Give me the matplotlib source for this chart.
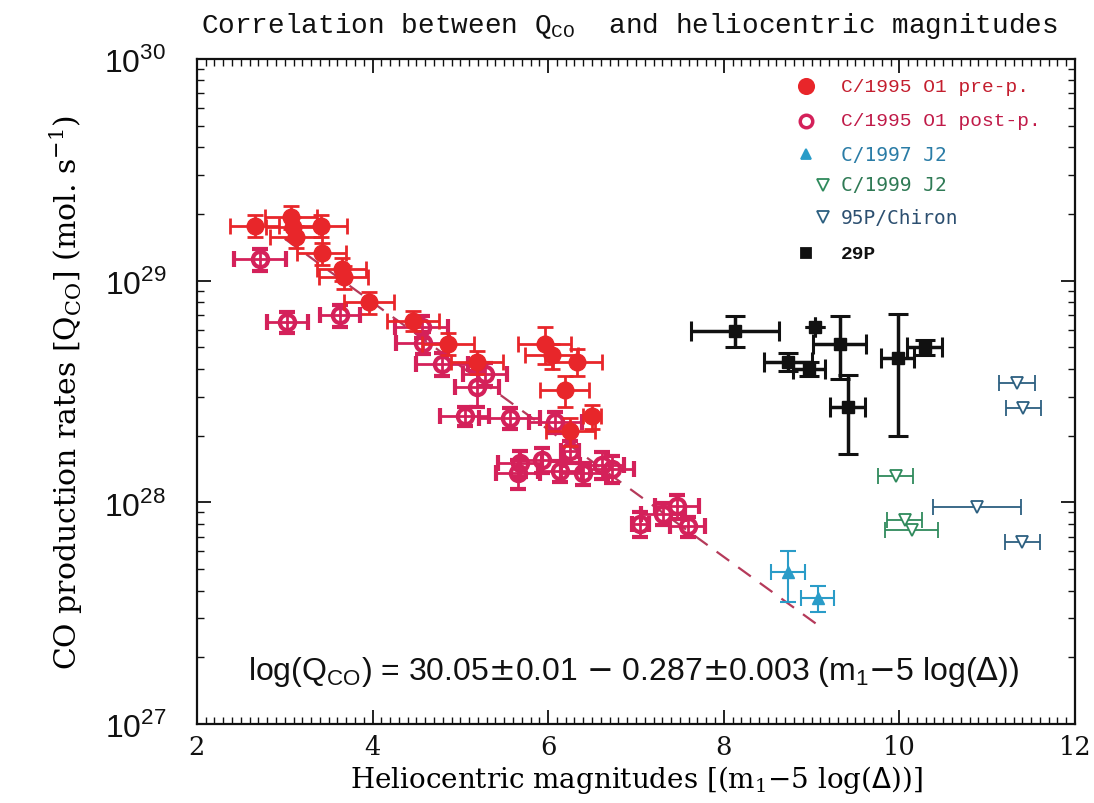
import matplotlib
matplotlib.use("Agg")
import matplotlib.pyplot as plt
from matplotlib.ticker import MultipleLocator, LogLocator, NullFormatter
import numpy as np

# ---------------- data (Q in units of 1e28 mol/s) ----------------
pre_x    = [2.66, 3.07, 3.09, 3.13, 3.41, 3.42, 3.65, 3.67, 3.96, 4.46, 4.86, 5.19, 5.96, 6.04, 6.33, 6.19, 6.25, 6.50]
pre_q    = [17.7, 19.4, 17.4, 15.8, 17.7, 13.3, 11.3, 10.4, 8.0, 6.6, 5.2, 4.3, 5.2, 4.6, 4.3, 3.2, 2.1, 2.45]
pre_xerr = [0.28, 0.30, 0.30, 0.30, 0.30, 0.28, 0.28, 0.28, 0.28, 0.30, 0.30, 0.30, 0.30, 0.30, 0.28, 0.28, 0.28, 0.10]
pre_qerr = [2.0, 2.3, 2.0, 1.8, 2.0, 1.5, 1.3, 1.2, 0.9, 0.7, 0.6, 0.5, 1.0, 0.6, 0.6, 0.5, 0.3, 0.3]

post_x    = [2.72, 3.03, 3.63, 4.56, 4.57, 4.79, 5.28, 5.19, 5.05, 5.56, 6.08, 6.25, 5.68, 5.93, 5.66, 6.13, 6.40, 6.61, 6.73, 7.05, 7.31, 7.47, 7.59]
post_q    = [12.5, 6.5, 7.0, 6.2, 5.25, 4.2, 3.8, 3.3, 2.45, 2.4, 2.3, 1.7, 1.5, 1.55, 1.35, 1.38, 1.35, 1.48, 1.42, 0.80, 0.89, 0.96, 0.78]
post_xerr = [0.30, 0.23, 0.23, 0.30, 0.30, 0.30, 0.25, 0.25, 0.28, 0.35, 0.30, 0.10, 0.25, 0.25, 0.25, 0.25, 0.25, 0.25, 0.25, 0.10, 0.25, 0.25, 0.20]
post_qerr = [1.4, 0.7, 0.8, 0.7, 0.6, 0.5, 0.45, 0.6, 0.25, 0.25, 0.25, 0.2, 0.2, 0.2, 0.2, 0.15, 0.15, 0.2, 0.2, 0.1, 0.1, 0.12, 0.08]

j97_x     = [8.73, 9.07]
j97_q     = [0.485, 0.37]
j97_xerr  = [0.19, 0.19]
j97_qlo   = [0.13, 0.05]
j97_qhi   = [0.115, 0.05]

j99_x     = [9.96, 10.06, 10.14]
j99_q     = [1.31, 0.83, 0.75]
j99_xerr  = [0.20, 0.20, 0.30]

chiron_x    = [11.34, 11.41, 10.88, 11.40]
chiron_q    = [3.45, 2.67, 0.955, 0.66]
chiron_xerr = [0.20, 0.20, 0.50, 0.20]

p29_x     = [8.13, 9.04, 9.32, 8.73, 8.97, 9.41, 9.98, 10.29]
p29_q     = [5.9, 6.2, 5.2, 4.3, 4.0, 2.7, 4.5, 5.0]
p29_xerr  = [0.50, 0.0, 0.30, 0.27, 0.18, 0.20, 0.19, 0.20]
p29_qlo   = [0.9, 0.0, 1.6, 0.4, 0.3, 1.05, 2.5, 0.4]
p29_qhi   = [1.0, 0.0, 1.7, 0.4, 0.3, 1.05, 2.55, 0.4]

fit_intercept = 30.05
fit_slope = -0.287
fit_xrange = [3.0, 9.1]

SCALE = 1e28

c_pre = '#e8262a'
c_post = '#d4215a'
c_j97 = '#2a9cc8'
c_j99 = '#2f8a5c'
c_chi = '#2c5f80'
c_29p = '#111111'

fig = plt.figure(figsize=(10.94, 8.04), dpi=100)
ax = fig.add_axes([0.180, 0.0983, 0.8026, 0.8271])
ax.set_yscale('log')
ax.set_xlim(2, 12)
ax.set_ylim(1e27, 1e30)

# fit line
fx = np.array(fit_xrange)
ax.plot(fx, 10 ** (fit_intercept + fit_slope * fx), color='#b53a5a', lw=1.6,
        dashes=(7, 5), zorder=1)

def sc(v):
    return np.array(v) * SCALE

# pre-perihelion
ax.errorbar(pre_x, sc(pre_q), xerr=pre_xerr, yerr=sc(pre_qerr), fmt='o', ms=12,
            color=c_pre, mec=c_pre, mfc=c_pre, ecolor=c_pre, elinewidth=2, capsize=6,
            capthick=2, zorder=4)
# post-perihelion
ax.errorbar(post_x, sc(post_q), xerr=post_xerr, yerr=sc(post_qerr), fmt='o', ms=11,
            color=c_post, mec=c_post, mfc='none', mew=3, ecolor=c_post, elinewidth=2,
            capsize=6, capthick=2, zorder=3)
# C/1997 J2
ax.errorbar(j97_x, sc(j97_q), xerr=j97_xerr, yerr=[sc(j97_qlo), sc(j97_qhi)], fmt='^',
            ms=8, color=c_j97, ecolor=c_j97, elinewidth=1.5, capsize=6, capthick=1.5,
            zorder=4)
# C/1999 J2
ax.errorbar(j99_x, sc(j99_q), xerr=j99_xerr, fmt='v', ms=9, mfc='white', mec=c_j99,
            mew=1.3, ecolor=c_j99, elinewidth=1.3, capsize=6, capthick=1.3, zorder=4)
# Chiron
ax.errorbar(chiron_x, sc(chiron_q), xerr=chiron_xerr, fmt='v', ms=9, mfc='white',
            mec=c_chi, mew=1.3, ecolor=c_chi, elinewidth=1.3, capsize=6, capthick=1.3,
            zorder=4)
# 29P
ax.errorbar(p29_x, sc(p29_q), xerr=p29_xerr, yerr=[sc(p29_qlo), sc(p29_qhi)], fmt='s',
            ms=9, color=c_29p, ecolor=c_29p, elinewidth=2.5, capsize=7, capthick=2.2,
            zorder=4)

# axes styling
for s in ax.spines.values():
    s.set_linewidth(1.6)
    s.set_color('#111111')
ax.xaxis.set_major_locator(MultipleLocator(2))
ax.xaxis.set_minor_locator(MultipleLocator(0.1))
ax.yaxis.set_minor_locator(LogLocator(base=10, subs=np.arange(2, 10), numticks=20))
ax.yaxis.set_minor_formatter(NullFormatter())
ax.tick_params(which='both', direction='in', top=True, right=True, colors='#111111')
ax.tick_params(which='major', length=10, width=1.3)
ax.tick_params(which='minor', length=5, width=1.0)
ax.tick_params(axis='y', which='major', pad=22)
ax.tick_params(axis='x', which='major', pad=7)
ax.set_yticks([1e27, 1e28, 1e29, 1e30])
ax.set_yticklabels([r'10$^{\mathregular{27}}$', r'10$^{\mathregular{28}}$',
                    r'10$^{\mathregular{29}}$', r'10$^{\mathregular{30}}$'],
                   fontfamily='Liberation Sans', fontsize=23)
ax.set_xticks([2, 4, 6, 8, 10, 12])
ax.set_xticklabels(['2', '4', '6', '8', '10', '12'], fontfamily='DejaVu Serif',
                   fontsize=18.5)

ax.set_xlabel(r'Heliocentric magnitudes [(m$_{\mathregular{1}}$$-$5 log($\Delta$))]',
              fontfamily='DejaVu Serif', fontsize=20)
ax.xaxis.set_label_coords(0.5, -0.083, transform=ax.transAxes)
ax.xaxis.label.set_va('center')
ax.set_ylabel(r'CO production rates [Q$_{\mathregular{CO}}$] (mol. s$^{\mathregular{-1}}$)',
              fontfamily='DejaVu Serif', fontsize=21.5, labelpad=14)

fig.text(0.575, 0.968, r'Correlation between Q$_{\mathregular{CO}}$  and heliocentric magnitudes',
         ha='center', va='center', fontfamily='Liberation Mono', fontsize=20,
         color='#111111')

ax.text(0.497, 0.08,
        r'log(Q$_{\mathregular{CO}}$) = 30.05$\pm$0.01 $-$ 0.287$\pm$0.003 (m$_{\mathregular{1}}$$-$5 log($\Delta$))',
        transform=ax.transAxes, ha='center', va='center', fontfamily='Liberation Sans',
        fontsize=23, color='#111111')

# manual legend
leg = [
    ('o', c_pre, c_pre, 11, 0.694, 'C/1995 O1 pre-p.', '#c41e2e', 'Liberation Mono', 'normal'),
    ('o', 'none', c_post, 9, 0.694, 'C/1995 O1 post-p.', '#c01a48', 'Liberation Mono', 'normal'),
    ('^', c_j97, c_j97, 7, 0.694, 'C/1997 J2', '#2a7ca6', 'DejaVu Sans Mono', 'normal'),
    ('v', 'white', c_j99, 8, 0.713, 'C/1999 J2', '#2f7a55', 'DejaVu Sans Mono', 'normal'),
    ('v', 'white', c_chi, 8, 0.713, '95P/Chiron', '#2c4f70', 'DejaVu Sans Mono', 'normal'),
    ('s', c_29p, c_29p, 7, 0.694, '29P', '#111111', 'Liberation Mono', 'bold'),
]
rows = [0.959, 0.907, 0.857, 0.811, 0.762, 0.708]
for (m, fc, ec, ms, mx, lab, tc, fam, wt), ry in zip(leg, rows):
    ax.plot([mx], [ry], marker=m, ms=ms, mfc=fc, mec=ec, mew=2.5 if m == 'o' and fc == 'none' else 1.3,
            transform=ax.transAxes, ls='none', clip_on=False, zorder=5)
    ax.text(0.733, ry, lab, transform=ax.transAxes, ha='left', va='center',
            fontfamily=fam, fontsize=14, color=tc, fontweight=wt)

fig.savefig('out.png', dpi=100)
